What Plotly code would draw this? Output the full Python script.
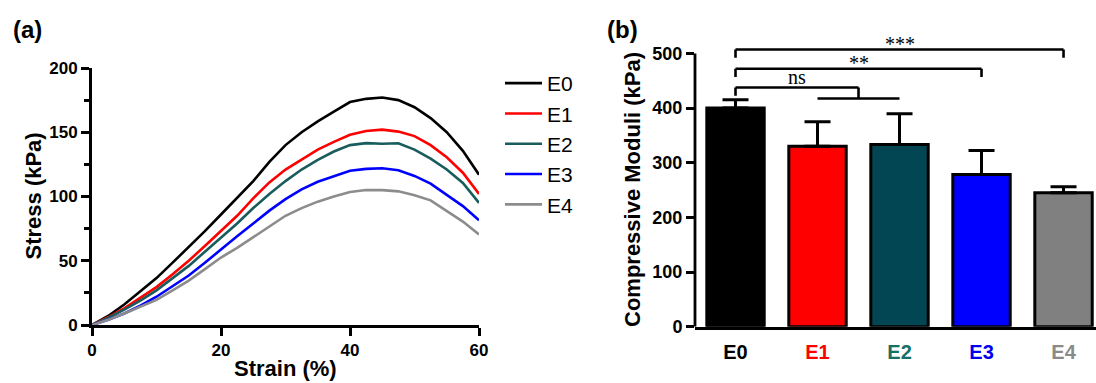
import plotly.graph_objects as go

# ---------------- data ----------------
strain = [0, 2.5, 5, 7.5, 10, 12.5, 15, 17.5, 20, 22.5, 25, 27.5, 30,
          32.5, 35, 37.5, 40, 42.5, 45, 47.5, 50, 52.5, 55, 57.5, 60]
stress_E0 = [0, 7, 16, 26, 36.5, 48.5, 60.5, 73, 86, 99, 112, 127, 140,
             150, 158.5, 166, 173.5, 176, 177, 175, 169.5, 161, 150, 135.5, 117]
stress_E1 = [0, 6, 13, 21, 29.5, 39.5, 50, 61.5, 73, 85, 98.5, 111, 121,
             129, 136.5, 142.5, 148, 151, 152, 150.5, 147, 140, 130.5, 118.5, 102]
stress_E2 = [0, 5.5, 12, 19, 27, 36.5, 46, 57, 68, 79, 91, 102, 112,
             121, 128.5, 135, 140, 141.5, 141, 141.4, 136.5, 129.5, 121, 110.5, 95]
stress_E3 = [0, 4, 9, 15, 22, 30, 38.5, 48.5, 59, 69, 79, 89, 98,
             105.5, 111.5, 116, 120, 121.5, 122, 120.5, 116, 110, 101.5, 92.5, 81.5]
stress_E4 = [0, 4, 9, 14, 19.5, 27, 34.5, 43.5, 52.5, 60, 68.5, 77, 85,
             91, 96, 100, 103.5, 105, 105, 104, 101, 97, 89, 80.5, 70.5]

groups = ["E0", "E1", "E2", "E3", "E4"]
moduli = [400, 330, 333.5, 278.5, 245]
moduli_err = [15, 45, 56, 44, 11]

sig_labels = ["ns", "**", "***"]
sig_from = [0, 0, 0]
sig_to = [1.5, 3, 4]

# ---------------- styles ----------------
W, H = 1096, 383
SANS = "Arial, Liberation Sans, sans-serif"
SERIF = "Times New Roman, Liberation Serif, serif"
line_colors = ["#000000", "#ff0000", "#1a5c5c", "#0000ff", "#8c8c8c"]
bar_colors = ["#000000", "#ff0000", "#024654", "#0000ff", "#808080"]
label_colors = ["#000000", "#ff0000", "#157066", "#0000ee", "#8a8a8a"]

def px_x(p):
    return p / W

def px_y(p):
    return 1 - p / H

fig = go.Figure()

series = [stress_E0, stress_E1, stress_E2, stress_E3, stress_E4]
for name, ys, col in zip(groups, series, line_colors):
    fig.add_trace(go.Scatter(
        x=strain, y=ys, mode="lines", name=name, legendgroup=name,
        line=dict(color=col, width=2.6), xaxis="x", yaxis="y"))

fig.add_trace(go.Bar(
    x=groups, y=moduli, xaxis="x2", yaxis="y2", width=0.7,
    marker=dict(color=bar_colors, line=dict(color="black", width=3)),
    error_y=dict(type="data", array=moduli_err, symmetric=False,
                 arrayminus=[0] * len(groups), color="black",
                 thickness=3, width=13),
    showlegend=False))

axis_common = dict(showgrid=False, zeroline=False, showline=True,
                   linecolor="black", linewidth=2.8, ticks="outside",
                   tickwidth=2.6, tickcolor="black", ticklen=8,
                   tickfont=dict(family=SANS, size=17, color="black", weight="bold"))

fig.update_layout(
    autosize=True, margin=dict(l=0, r=0, t=0, b=0, autoexpand=False),
    paper_bgcolor="white", plot_bgcolor="white",
    xaxis=dict(domain=[px_x(92), px_x(479)], range=[0, 60],
               tickvals=[0, 20, 40, 60], anchor="y", **axis_common),
    yaxis=dict(domain=[px_y(325), px_y(68)], range=[0, 200],
               tickvals=[0, 50, 100, 150, 200], anchor="x",
               minor=dict(tickvals=[25, 75, 125, 175], ticks="outside",
                          ticklen=5, tickwidth=2.6, tickcolor="black"),
               **axis_common),
    xaxis2=dict(domain=[px_x(695), 1.0], range=[-0.494, 4.396],
                anchor="y2", showgrid=False, zeroline=False, showline=True,
                linecolor="black", linewidth=2.8, ticks="",
                tickvals=groups,
                ticktext=[f"<span style='color:{c}'>{g}</span>" for g, c in zip(groups, label_colors)],
                ticklabelstandoff=5,
                tickfont=dict(family=SANS, size=20, weight="bold")),
    yaxis2=dict(domain=[px_y(326.7), px_y(37.0)], range=[0, 530],
                anchor="x2", showgrid=False, zeroline=False, showline=False,
                ticks="outside", tickwidth=2.6, tickcolor="black", ticklen=8,
                tickvals=[0, 100, 200, 300, 400, 500],
                tickfont=dict(family=SANS, size=18, color="black", weight="bold")),
    legend=dict(x=px_x(500), y=px_y(63), xanchor="left", yanchor="top",
                font=dict(family=SANS, size=21, color="black"),
                itemwidth=37, tracegroupgap=0, bgcolor="rgba(0,0,0,0)"),
    showlegend=True,
)

# y axis line of panel (b), stopping at 500
fig.add_shape(type="line", xref="paper", yref="y2", x0=px_x(695), x1=px_x(695),
              y0=0, y1=500, line=dict(color="black", width=2.8))

# significance brackets
lvl = {"ns": 437.6, "**": 472, "***": 507}
drop = 15
shape_line = dict(color="black", width=2.6)
for lab, a, b in zip(sig_labels, sig_from, sig_to):
    yv = lvl[lab]
    fig.add_shape(type="line", xref="x2", yref="y2", x0=a, x1=b, y0=yv, y1=yv, line=shape_line)
    fig.add_shape(type="line", xref="x2", yref="y2", x0=a, x1=a, y0=yv, y1=yv - drop, line=shape_line)
    if lab == "ns":
        low = yv - 20
        fig.add_shape(type="line", xref="x2", yref="y2", x0=b, x1=b, y0=yv, y1=low, line=shape_line)
        fig.add_shape(type="line", xref="x2", yref="y2", x0=1, x1=2, y0=low, y1=low, line=shape_line)
    else:
        fig.add_shape(type="line", xref="x2", yref="y2", x0=b, x1=b, y0=yv, y1=yv - drop, line=shape_line)
    off = {"ns": 20, "**": 10, "***": 10}[lab]
    fig.add_annotation(x=(a + b) / 2, y=yv + off, xref="x2", yref="y2",
                       text=lab, showarrow=False, xanchor="center", yanchor="middle",
                       font=dict(family=SERIF, size=20, color="black"))

# panel labels and axis titles
title_font = dict(family=SANS, size=22, color="black", weight="bold")
panel_font = dict(family=SANS, size=24, color="black", weight="bold")
texts = [
    ("(a)", 27, 29, 0, panel_font),
    ("(b)", 622, 29, 0, panel_font),
    ("Strain (%)", 285, 368, 0, title_font),
    ("Stress (kPa)", 32.5, 196, -90, title_font),
    ("Compressive Moduli (kPa)", 632, 190, -90, title_font),
]
for t, xx, yy, ang, f in texts:
    fig.add_annotation(x=px_x(xx), y=px_y(yy), xref="paper", yref="paper", text=t,
                       showarrow=False, textangle=ang, xanchor="center", yanchor="middle",
                       font=f)

fig.write_html(
    "out.html",
    config={"displayModeBar": False},
    default_width=f"{W}px; position:absolute; left:0; top:0",
    default_height=f"{H}px",
)
